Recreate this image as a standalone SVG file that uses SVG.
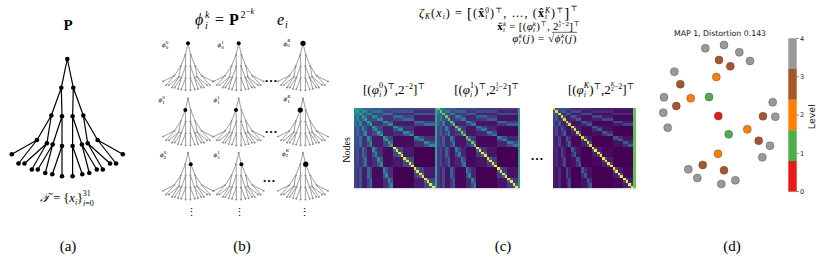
<svg xmlns="http://www.w3.org/2000/svg" xmlns:xlink="http://www.w3.org/1999/xlink" width="830" height="271" viewBox="0 0 830 271">
<style>
.serif{font-family:"Liberation Serif","DejaVu Serif",serif;fill:#000}
.sans{font-family:"DejaVu Sans","Liberation Sans",sans-serif;fill:#222}
.it{font-style:italic}
.d1{fill:var(--d1,#21918c)}.d2{fill:var(--d2,#2c728e)}.d3{fill:var(--d3,#3b528b)}.d4{fill:var(--d4,#414487)}
.d5{fill:var(--d5,#472d7b)}.d6{fill:var(--d6,#481a6c)}.d7{fill:var(--d7,#450a5e)}.d8{fill:var(--d8,#440154)}
.di{fill:var(--di,#22a884)}.dl{fill:var(--dl,#fde725)}.dc{fill:var(--dc,#3a9a93)}
.pt{stroke:#444;stroke-width:0.4}
</style>
<defs>
<path id="tedges" fill="none" d="M67.3,59L61.3,87.7M67.3,59L73.3,87.7M61.3,87.7L51.3,115.5M61.3,87.7L62,116.3M73.3,87.7L72.6,116.3M73.3,87.7L83.3,115.5M51.3,115.5L37,140M51.3,115.5L46.9,143.3M62,116.3L52.7,144.5M62,116.3L62,146M72.6,116.3L72.6,146M72.6,116.3L81.9,144.5M83.3,115.5L87.7,143.3M83.3,115.5L97.6,140M37,140L11.8,154.3M37,140L18.5,163.5M46.9,143.3L24.5,163.5M46.9,143.3L31.8,169.5M52.7,144.5L37.8,169.5M52.7,144.5L45.3,173M62,146L52.3,174.2M62,146L62,176.3M72.6,146L72.6,176.3M72.6,146L82.3,174.2M81.9,144.5L89.3,173M81.9,144.5L96.8,169.5M87.7,143.3L102.8,169.5M87.7,143.3L110.1,163.5M97.6,140L116.1,163.5M97.6,140L122.8,154.3"/>
<g id="tnodes">
<circle cx="67.3" cy="59" r="2.3"/><circle cx="61.3" cy="87.7" r="2.3"/><circle cx="73.3" cy="87.7" r="2.3"/>
<circle cx="51.3" cy="115.5" r="2.3"/><circle cx="62" cy="116.3" r="2.3"/><circle cx="72.6" cy="116.3" r="2.3"/><circle cx="83.3" cy="115.5" r="2.3"/>
<circle cx="37" cy="140" r="2.3"/><circle cx="46.9" cy="143.3" r="2.3"/><circle cx="52.7" cy="144.5" r="2.3"/><circle cx="62" cy="146" r="2.3"/>
<circle cx="72.6" cy="146" r="2.3"/><circle cx="81.9" cy="144.5" r="2.3"/><circle cx="87.7" cy="143.3" r="2.3"/><circle cx="97.6" cy="140" r="2.3"/>
<circle cx="11.8" cy="154.3" r="2.3"/><circle cx="18.5" cy="163.5" r="2.3"/><circle cx="24.5" cy="163.5" r="2.3"/><circle cx="31.8" cy="169.5" r="2.3"/>
<circle cx="37.8" cy="169.5" r="2.3"/><circle cx="45.3" cy="173" r="2.3"/><circle cx="52.3" cy="174.2" r="2.3"/><circle cx="62" cy="176.3" r="2.3"/>
<circle cx="72.6" cy="176.3" r="2.3"/><circle cx="82.3" cy="174.2" r="2.3"/><circle cx="89.3" cy="173" r="2.3"/><circle cx="96.8" cy="169.5" r="2.3"/>
<circle cx="102.8" cy="169.5" r="2.3"/><circle cx="110.1" cy="163.5" r="2.3"/><circle cx="116.1" cy="163.5" r="2.3"/><circle cx="122.8" cy="154.3" r="2.3"/>
</g>
<g id="mini">
<g transform="scale(0.45,0.4) translate(-67.3,-59)">
<use href="#tedges" stroke="#8e8e8e" stroke-width="2"/>
<use href="#tnodes" fill="#8e8e8e"/>
</g>
</g>
<g id="half">
<rect class="d1" x="0" y="1" width="1" height="2"/>
<rect class="d2" x="1" y="1" width="2" height="2"/>
<rect class="d2" x="0" y="3" width="1" height="4"/>
<rect class="d3" x="1" y="3" width="2" height="4"/>
<rect class="d1" x="1" y="3" width="1" height="2"/><rect class="d1" x="2" y="5" width="1" height="2"/>
<rect class="d4" x="3" y="3" width="4" height="4"/>
<rect class="d2" x="3" y="3" width="2" height="2"/><rect class="d2" x="5" y="5" width="2" height="2"/>
<rect class="d3" x="0" y="7" width="1" height="8"/>
<rect class="d4" x="1" y="7" width="2" height="8"/>
<rect class="d2" x="1" y="7" width="1" height="4"/><rect class="d2" x="2" y="11" width="1" height="4"/>
<rect class="d5" x="3" y="7" width="4" height="8"/>
<rect class="d3" x="3" y="7" width="2" height="4"/><rect class="d3" x="5" y="11" width="2" height="4"/>
<rect class="d1" x="3" y="7" width="1" height="2"/><rect class="d1" x="4" y="9" width="1" height="2"/><rect class="d1" x="5" y="11" width="1" height="2"/><rect class="d1" x="6" y="13" width="1" height="2"/>
<rect class="d6" x="7" y="7" width="8" height="8"/>
<rect class="d4" x="7" y="7" width="4" height="4"/><rect class="d4" x="11" y="11" width="4" height="4"/>
<rect class="d2" x="7" y="7" width="2" height="2"/><rect class="d2" x="9" y="9" width="2" height="2"/><rect class="d2" x="11" y="11" width="2" height="2"/><rect class="d2" x="13" y="13" width="2" height="2"/>
<rect class="d4" x="0" y="15" width="1" height="16"/>
<rect class="d5" x="1" y="15" width="2" height="16"/>
<rect class="d3" x="1" y="15" width="1" height="8"/><rect class="d3" x="2" y="23" width="1" height="8"/>
<rect class="d6" x="3" y="15" width="4" height="16"/>
<rect class="d4" x="3" y="15" width="2" height="8"/><rect class="d4" x="5" y="23" width="2" height="8"/>
<rect class="d2" x="3" y="15" width="1" height="4"/><rect class="d2" x="4" y="19" width="1" height="4"/><rect class="d2" x="5" y="23" width="1" height="4"/><rect class="d2" x="6" y="27" width="1" height="4"/>
<rect class="d7" x="7" y="15" width="8" height="16"/>
<rect class="d5" x="7" y="15" width="4" height="8"/><rect class="d5" x="11" y="23" width="4" height="8"/>
<rect class="d3" x="7" y="15" width="2" height="4"/><rect class="d3" x="9" y="19" width="2" height="4"/><rect class="d3" x="11" y="23" width="2" height="4"/><rect class="d3" x="13" y="27" width="2" height="4"/>
<rect class="d1" x="7" y="15" width="1" height="2"/><rect class="d1" x="8" y="17" width="1" height="2"/><rect class="d1" x="9" y="19" width="1" height="2"/><rect class="d1" x="10" y="21" width="1" height="2"/>
<rect class="d1" x="11" y="23" width="1" height="2"/><rect class="d1" x="12" y="25" width="1" height="2"/><rect class="d1" x="13" y="27" width="1" height="2"/><rect class="d1" x="14" y="29" width="1" height="2"/>
<rect class="d6" x="15" y="15" width="8" height="8"/><rect class="d6" x="23" y="23" width="8" height="8"/>
<rect class="d4" x="15" y="15" width="4" height="4"/><rect class="d4" x="19" y="19" width="4" height="4"/><rect class="d4" x="23" y="23" width="4" height="4"/><rect class="d4" x="27" y="27" width="4" height="4"/>
<rect class="d2" x="15" y="15" width="2" height="2"/><rect class="d2" x="17" y="17" width="2" height="2"/><rect class="d2" x="19" y="19" width="2" height="2"/><rect class="d2" x="21" y="21" width="2" height="2"/>
<rect class="d2" x="23" y="23" width="2" height="2"/><rect class="d2" x="25" y="25" width="2" height="2"/><rect class="d2" x="27" y="27" width="2" height="2"/><rect class="d2" x="29" y="29" width="2" height="2"/>
</g>
<g id="mat" shape-rendering="crispEdges">
<rect class="d8" x="0" y="0" width="31" height="31"/>
<use href="#half"/>
<use href="#half" transform="matrix(0,1,1,0,0,0)"/>
<path class="di" d="M0,0h1v1h-1zm1,1h1v1h-1zm1,1h1v1h-1zm1,1h1v1h-1zm1,1h1v1h-1zm1,1h1v1h-1zm1,1h1v1h-1zm1,1h1v1h-1zm1,1h1v1h-1zm1,1h1v1h-1zm1,1h1v1h-1zm1,1h1v1h-1zm1,1h1v1h-1zm1,1h1v1h-1zm1,1h1v1h-1z"/>
<path class="dl" d="M15,15h1v1h-1zm1,1h1v1h-1zm1,1h1v1h-1zm1,1h1v1h-1zm1,1h1v1h-1zm1,1h1v1h-1zm1,1h1v1h-1zm1,1h1v1h-1zm1,1h1v1h-1zm1,1h1v1h-1zm1,1h1v1h-1zm1,1h1v1h-1zm1,1h1v1h-1zm1,1h1v1h-1zm1,1h1v1h-1zm1,1h1v1h-1z"/>
<rect class="dc" x="31" y="0" width="1" height="31"/>
</g>
</defs>

<!-- (a) -->
<g id="panel-a">
<text class="serif" x="68" y="30" font-size="15" font-weight="bold" text-anchor="middle">P</text>
<g id="tree-a">
<use href="#tedges" stroke="#000" stroke-width="1.2"/>
<use href="#tnodes" fill="#000"/>
</g>
<text class="serif" x="40" y="202" font-size="12.5"><tspan class="it">𝒯</tspan> = {<tspan class="it">x</tspan><tspan class="it" font-size="8" dy="2.5">i</tspan><tspan dy="-2.5">}</tspan><tspan font-size="8" dy="3.5"><tspan class="it">i</tspan>=0</tspan><tspan font-size="8" dx="-11" dy="-9.5">31</tspan></text>
<text class="serif" x="68" y="251" font-size="15" text-anchor="middle">(a)</text>
</g>

<!-- (b) -->
<g id="panel-b">
<text class="serif" y="25" font-size="16"><tspan x="195" class="it">ϕ</tspan><tspan x="205" class="it" font-size="10" dy="4">i</tspan><tspan x="205" class="it" font-size="10" dy="-11">k</tspan><tspan x="215" dy="7">=</tspan><tspan x="229" font-weight="bold">P</tspan><tspan x="240.5" font-size="10" dy="-7">2</tspan><tspan x="246" font-size="8" dy="-4"><tspan>−</tspan><tspan class="it">k</tspan></tspan><tspan x="277" class="it" dy="11">e</tspan><tspan x="285" class="it" font-size="10" dy="3">i</tspan></text>
<g id="mini-trees">
<use href="#mini" transform="translate(188,43.3)"/>
<use href="#mini" transform="translate(238.7,43.3)"/>
<use href="#mini" transform="translate(303,43.3)"/>
<use href="#mini" transform="translate(188,98.5)"/>
<use href="#mini" transform="translate(238.7,98.5)"/>
<use href="#mini" transform="translate(303,98.5)"/>
<use href="#mini" transform="translate(188,152.7)"/>
<use href="#mini" transform="translate(238.7,152.7)"/>
<use href="#mini" transform="translate(303,152.7)"/>
</g>
<g id="highlights" fill="#000">
<circle cx="188" cy="43.3" r="2"/><circle cx="238.7" cy="43.3" r="2"/><circle cx="303" cy="43.3" r="2.6"/>
<circle cx="185.3" cy="110" r="2"/><circle cx="236" cy="110" r="2"/><circle cx="300.3" cy="110" r="2.6"/>
<circle cx="190.7" cy="164.2" r="2"/><circle cx="241.4" cy="164.2" r="2"/><circle cx="305.7" cy="164.2" r="2.6"/>
</g>
<g class="serif" font-size="7">
<text x="162" y="47"><tspan class="it">ϕ</tspan><tspan font-size="5" dy="1.5">0</tspan><tspan font-size="5" dx="-2.5" dy="-5">0</tspan></text>
<text x="217.5" y="47"><tspan class="it">ϕ</tspan><tspan font-size="5" dy="1.5">0</tspan><tspan font-size="5" dx="-2.5" dy="-5">1</tspan></text>
<text x="283.5" y="45.5"><tspan class="it">ϕ</tspan><tspan font-size="5" dy="1.5">0</tspan><tspan class="it" font-size="5" dx="-2.5" dy="-5">K</tspan></text>
<text x="158.5" y="102"><tspan class="it">ϕ</tspan><tspan font-size="5" dy="1.5">1</tspan><tspan font-size="5" dx="-2.5" dy="-5">0</tspan></text>
<text x="213.5" y="102"><tspan class="it">ϕ</tspan><tspan font-size="5" dy="1.5">1</tspan><tspan font-size="5" dx="-2.5" dy="-5">1</tspan></text>
<text x="283.5" y="101"><tspan class="it">ϕ</tspan><tspan font-size="5" dy="1.5">1</tspan><tspan class="it" font-size="5" dx="-2.5" dy="-5">K</tspan></text>
<text x="160" y="157"><tspan class="it">ϕ</tspan><tspan font-size="5" dy="1.5">2</tspan><tspan font-size="5" dx="-2.5" dy="-5">0</tspan></text>
<text x="213.5" y="157"><tspan class="it">ϕ</tspan><tspan font-size="5" dy="1.5">2</tspan><tspan font-size="5" dx="-2.5" dy="-5">1</tspan></text>
<text x="282" y="155.5"><tspan class="it">ϕ</tspan><tspan font-size="5" dy="1.5">2</tspan><tspan class="it" font-size="5" dx="-2.5" dy="-5">K</tspan></text>
</g>
<g class="serif" font-size="13" font-weight="bold" text-anchor="middle">
<text x="271" y="82">…</text>
<text x="271" y="133">…</text>
<text x="269" y="182">…</text>
</g>
<g class="serif" font-size="11" text-anchor="middle">
<text x="191" y="216">⋮</text>
<text x="239" y="216">⋮</text>
<text x="304" y="216">⋮</text>
</g>
<text class="serif" x="242" y="251" font-size="15" text-anchor="middle">(b)</text>
</g>

<!-- (c) -->
<g id="panel-c">
<text class="serif" x="419" y="17" font-size="12" letter-spacing="1.1"><tspan class="it">ζ</tspan><tspan class="it" font-size="7.5" dy="2">K</tspan><tspan dy="-2">(</tspan><tspan class="it">x</tspan><tspan class="it" font-size="7.5" dy="2">i</tspan><tspan dy="-2">) = </tspan><tspan font-size="15" dy="1">[</tspan><tspan dy="-1">(</tspan><tspan font-weight="bold">x̂</tspan><tspan class="it" font-size="7.5" dy="2">i</tspan><tspan font-size="7.5" dx="-3.3" dy="-6.5">0</tspan><tspan dy="4.5">)</tspan><tspan font-size="7.5" dy="-4.5">⊤</tspan><tspan dy="4.5">, …, (</tspan><tspan font-weight="bold">x̂</tspan><tspan class="it" font-size="7.5" dy="2">i</tspan><tspan class="it" font-size="7.5" dx="-3.3" dy="-6.5">K</tspan><tspan dy="4.5">)</tspan><tspan font-size="7.5" dy="-4.5">⊤</tspan><tspan font-size="15" dy="5.5">]</tspan><tspan font-size="7.5" dy="-7">⊤</tspan></text>
<text class="serif" x="580" y="29.5" font-size="11" text-anchor="end" letter-spacing="0.25"><tspan font-weight="bold">x̂</tspan><tspan class="it" font-size="7" dy="2">i</tspan><tspan class="it" font-size="7" dx="-2.3" dy="-6">k</tspan><tspan dy="4"> = [(</tspan><tspan class="it">φ</tspan><tspan class="it" font-size="7" dy="2">i</tspan><tspan class="it" font-size="7" dx="-2.3" dy="-6">k</tspan><tspan dy="4">)</tspan><tspan font-size="7" dy="-4">⊤</tspan><tspan dy="4">, 2</tspan><tspan class="it" font-size="5" dy="-6.5">k</tspan><tspan font-size="5" dx="-2.7" dy="3.5">2</tspan><tspan font-size="7" dy="-1">−2</tspan><tspan dy="4">]</tspan><tspan font-size="7" dy="-4">⊤</tspan></text>
<text class="serif" x="577" y="41.5" font-size="11" text-anchor="end" letter-spacing="0.6"><tspan class="it">φ</tspan><tspan class="it" font-size="7" dy="2">i</tspan><tspan class="it" font-size="7" dx="-2.6" dy="-6">k</tspan><tspan dy="4">(</tspan><tspan class="it">j</tspan>) = √<tspan class="it">ϕ</tspan><tspan class="it" font-size="7" dy="2">i</tspan><tspan class="it" font-size="7" dx="-2.6" dy="-6">k</tspan><tspan dy="4">(</tspan><tspan class="it">j</tspan>)</text>
<line x1="552" y1="32.3" x2="577" y2="32.3" stroke="#000" stroke-width="0.6"/>

<text class="serif" x="394" y="94" font-size="13" text-anchor="middle">[(<tspan class="it">φ</tspan><tspan class="it" font-size="8" dy="3">i</tspan><tspan font-size="8" dx="-2.2" dy="-9">0</tspan><tspan dy="6">)</tspan><tspan font-size="8" dy="-5">⊤</tspan><tspan dy="5">,2</tspan><tspan font-size="8" dy="-5">−2</tspan><tspan dy="5">]</tspan><tspan font-size="8" dy="-5">⊤</tspan></text>
<text class="serif" x="486.5" y="94" font-size="13" text-anchor="middle">[(<tspan class="it">φ</tspan><tspan class="it" font-size="8" dy="3">i</tspan><tspan font-size="8" dx="-2.2" dy="-9">1</tspan><tspan dy="6">)</tspan><tspan font-size="8" dy="-5">⊤</tspan><tspan dy="5">,2</tspan><tspan font-size="5.5" dy="-8">1</tspan><tspan font-size="5.5" dx="-2.8" dy="4.5">2</tspan><tspan font-size="8" dy="-1.5">−2</tspan><tspan dy="5">]</tspan><tspan font-size="8" dy="-5">⊤</tspan></text>
<text class="serif" x="601" y="94" font-size="13" text-anchor="middle">[(<tspan class="it">φ</tspan><tspan class="it" font-size="8" dy="3">i</tspan><tspan class="it" font-size="8" dx="-2.2" dy="-9">K</tspan><tspan dy="6">)</tspan><tspan font-size="8" dy="-5">⊤</tspan><tspan dy="5">,2</tspan><tspan class="it" font-size="5.5" dy="-8">K</tspan><tspan font-size="5.5" dx="-3.5" dy="4.5">2</tspan><tspan font-size="8" dy="-1.5">−2</tspan><tspan dy="5">]</tspan><tspan font-size="8" dy="-5">⊤</tspan></text>

<text class="serif" font-size="10" text-anchor="middle" transform="translate(349.5,150) rotate(-90)">Nodes</text>

<g id="matrix-0"><use href="#mat" transform="translate(354,107.6) scale(2.6)" style="--di:#25a983;--dl:#fde725;--d1:#21918c;--d2:#2c728e;--d3:#3b528b;--d4:#414487;--d5:#472d7b;--d6:#481a6c;--d7:#460b5e;--d8:#440154;--dc:#3d9a95"/></g>
<g id="matrix-1"><use href="#mat" transform="translate(437.2,107.6) scale(2.6)" style="--di:#6ccd5a;--dl:#fde725;--d1:#26828e;--d2:#33638d;--d3:#3e4989;--d4:#453781;--d5:#482475;--d6:#481467;--d7:#46085c;--d8:#440154;--dc:#3a9a93"/></g>
<g id="matrix-K"><use href="#mat" transform="translate(552.7,107.6) scale(2.6)" style="--di:#d8e219;--dl:#fde725;--d1:#365c8d;--d2:#3f4788;--d3:#472a7a;--d4:#481c6e;--d5:#471063;--d6:#46085c;--d7:#440154;--d8:#440154;--dc:#62c45a"/></g>
<g stroke="#d4cfe2" stroke-width="1">
<line x1="354" y1="188.8" x2="520.4" y2="188.8"/>
<line x1="552.7" y1="188.8" x2="635.9" y2="188.8"/>
</g>
<text class="serif" x="537" y="160" font-size="13" font-weight="bold" text-anchor="middle">…</text>
<text class="serif" x="503" y="251" font-size="15" text-anchor="middle">(c)</text>
</g>

<!-- (d) -->
<g id="panel-d">
<text class="sans" x="720" y="36" font-size="7.8" text-anchor="middle">MAP 1, Distortion 0.143</text>
<g id="points">
<g fill="#999999" class="pt">
<circle cx="705.3" cy="48.3" r="4"/><circle cx="724" cy="45" r="4"/><circle cx="739.3" cy="52.3" r="4"/><circle cx="750" cy="61" r="4"/>
<circle cx="674.3" cy="71.7" r="4"/><circle cx="664" cy="97.3" r="4"/><circle cx="663.3" cy="112.7" r="4"/><circle cx="667.7" cy="127.7" r="4"/>
<circle cx="772.7" cy="102.3" r="4"/><circle cx="775.3" cy="116.7" r="4"/><circle cx="770" cy="145.7" r="4"/><circle cx="762.3" cy="157.3" r="4"/>
<circle cx="688.3" cy="169.3" r="4"/><circle cx="697.3" cy="178" r="4"/><circle cx="721.3" cy="184" r="4"/><circle cx="735.3" cy="180.3" r="4"/>
</g>
<g fill="#a65628" class="pt">
<circle cx="719" cy="60" r="4"/><circle cx="730.3" cy="66.3" r="4"/><circle cx="680.3" cy="84.3" r="4"/><circle cx="676.3" cy="106" r="4"/>
<circle cx="763" cy="116.3" r="4"/><circle cx="758.7" cy="140.7" r="4"/><circle cx="702.7" cy="165" r="4"/><circle cx="724" cy="170.3" r="4"/>
</g>
<g fill="#ff7f00" class="pt">
<circle cx="716.3" cy="77" r="4"/><circle cx="690.7" cy="98.3" r="4"/><circle cx="747.3" cy="129.3" r="4"/><circle cx="718" cy="153.7" r="4"/>
</g>
<g fill="#4daf4a" class="pt">
<circle cx="709" cy="97" r="4"/><circle cx="728.7" cy="134.3" r="4"/>
</g>
<g fill="#e41a1c" class="pt">
<circle cx="718.3" cy="116" r="4"/>
</g>
</g>
<g id="colorbar">
<rect x="788.3" y="38.3" width="8.4" height="30.8" fill="#999999"/>
<rect x="788.3" y="69" width="8.4" height="30.8" fill="#a65628"/>
<rect x="788.3" y="99.7" width="8.4" height="30.8" fill="#ff7f00"/>
<rect x="788.3" y="130.3" width="8.4" height="30.8" fill="#4daf4a"/>
<rect x="788.3" y="161" width="8.4" height="30.7" fill="#e41a1c"/>
<g stroke="#333" stroke-width="0.6">
<line x1="796.7" y1="38.5" x2="798.8" y2="38.5"/><line x1="796.7" y1="76.7" x2="798.8" y2="76.7"/><line x1="796.7" y1="115" x2="798.8" y2="115"/><line x1="796.7" y1="153.3" x2="798.8" y2="153.3"/><line x1="796.7" y1="191.5" x2="798.8" y2="191.5"/>
</g>
<g class="sans" font-size="6.5">
<text x="800" y="40.8">4</text><text x="800" y="79">3</text><text x="800" y="117.3">2</text><text x="800" y="155.6">1</text><text x="800" y="193.9">0</text>
</g>
<text class="sans" font-size="9.5" text-anchor="middle" transform="translate(815,116.7) rotate(-90)">Level</text>
</g>
<text class="serif" x="732" y="251" font-size="15" text-anchor="middle">(d)</text>
</g>
</svg>
